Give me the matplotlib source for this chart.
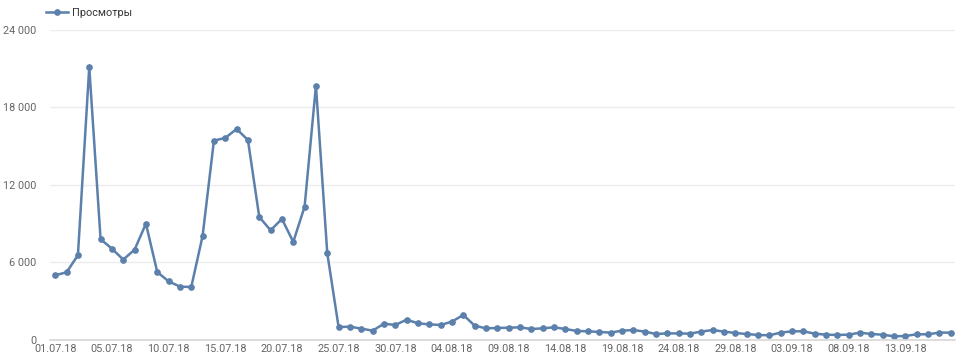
import numpy as np
import matplotlib.pyplot as plt
from matplotlib.ticker import FuncFormatter

plt.rcParams['font.family'] = ['Roboto', 'DejaVu Sans']

# daily views, 80 days
views = [5010, 5240, 6560, 21130, 7800, 7070, 6220, 6990, 9000, 5260,
         4540, 4130, 4100, 8050, 15430, 15640, 16330, 15480, 9520, 8490,
         9370, 7590, 10320, 19690, 6710, 1000, 1030, 880, 720, 1260,
         1160, 1570, 1290, 1210, 1160, 1420, 1940, 1110, 900, 930,
         950, 980, 850, 900, 980, 850, 700, 670, 620, 570,
         720, 770, 650, 460, 510, 510, 490, 650, 770, 650,
         540, 460, 390, 360, 570, 670, 670, 490, 410, 390,
         410, 570, 460, 410, 280, 310, 440, 440, 570, 570]

tick_labels = ["01.07.18", "05.07.18", "10.07.18", "15.07.18", "20.07.18",
               "25.07.18", "30.07.18", "04.08.18", "09.08.18", "14.08.18",
               "19.08.18", "24.08.18", "29.08.18", "03.09.18", "08.09.18",
               "13.09.18"]

y_ticks = [0, 6000, 12000, 18000, 24000]

color = "#5b80ab"
x = np.arange(len(views))

fig = plt.figure(figsize=(9.6, 3.56), dpi=100)
ax = fig.add_axes([0.052, 0.045, 0.943, 0.871])

ax.plot(x, views, color=color, linewidth=1.8, marker="o", markersize=3.8,
        label="Просмотры")

ax.set_xlim(-0.47, len(views) - 1 + 0.4)
ax.set_ylim(0, 24000)
ax.set_yticks(y_ticks)
ax.yaxis.set_major_formatter(FuncFormatter(lambda v, p: f"{int(v):,}".replace(",", " ")))
ax.set_xticks(np.arange(len(tick_labels)) * 5)
ax.set_xticklabels(tick_labels)

ax.grid(axis="y", color="#ececec", linewidth=1)
ax.set_axisbelow(True)
for s in ["top", "right", "left"]:
    ax.spines[s].set_visible(False)
ax.spines["bottom"].set_color("#d6d6d6")
ax.spines["bottom"].set_linewidth(1.2)
ax.tick_params(axis="both", length=0, labelsize=7.8, colors="#666666")
ax.tick_params(axis="x", pad=3)
ax.tick_params(axis="y", pad=10)

leg = ax.legend(loc="center left", bbox_to_anchor=(-0.004, 1.055), frameon=False,
                fontsize=7.8, handlelength=2.0, handletextpad=0.4, borderaxespad=0,
                borderpad=0)
for t in leg.get_texts():
    t.set_color("#333333")

fig.savefig("out.png", dpi=100)
